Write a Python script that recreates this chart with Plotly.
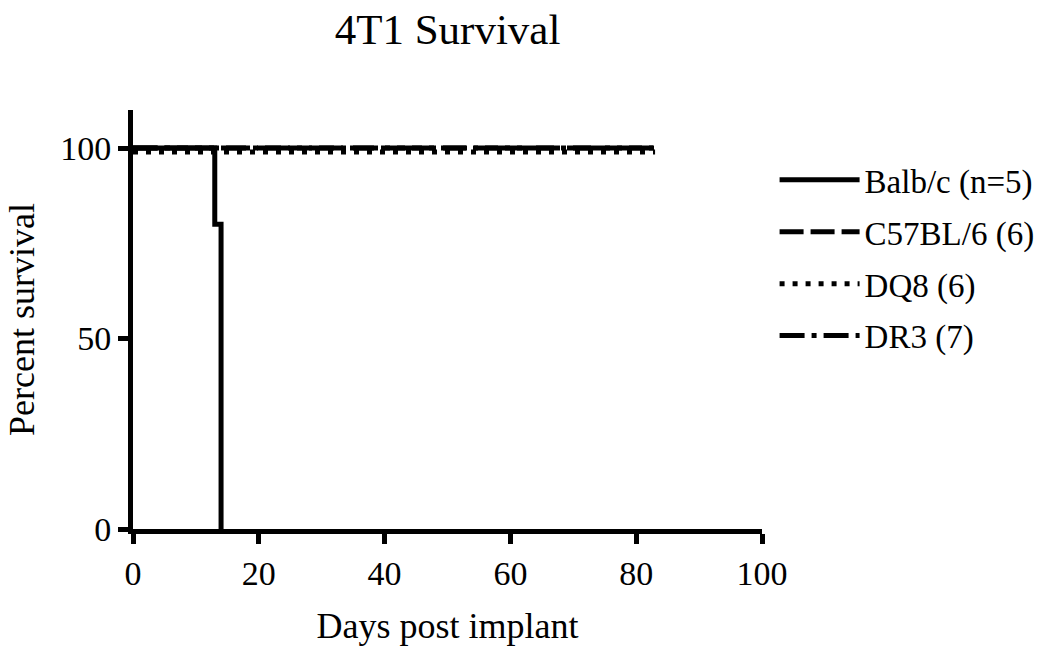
import plotly.graph_objects as go

title = "4T1 Survival"
x_title = "Days post implant"
y_title = "Percent survival"

balb_days = [0, 13, 14]
balb_surv = [100, 80, 0]
c57_days = [0, 83]
c57_surv = [100, 100]
dq8_days = [0, 83]
dq8_surv = [100, 100]
dr3_days = [0, 83]
dr3_surv = [100, 100]

x_ticks = [0, 20, 40, 60, 80, 100]
y_ticks = [0, 50, 100]

FONT = "Liberation Serif, Times New Roman, serif"
LW = 5

fig = go.Figure()
fig.add_trace(go.Scatter(x=balb_days, y=balb_surv, mode="lines", line_shape="hv", legendgroup="a",
                         name="Balb/c (n=5)", line=dict(color="black", width=LW)))
fig.add_trace(go.Scatter(x=c57_days, y=c57_surv, mode="lines", line_shape="hv", legendgroup="b",
                         name="C57BL/6 (6)", line=dict(color="black", width=LW, dash="24px,7px")))
fig.add_trace(go.Scatter(x=dq8_days, y=dq8_surv, mode="lines", line_shape="hv", yaxis="y2", legendgroup="c",
                         name="DQ8 (6)", line=dict(color="black", width=LW, dash="5px,8px")))
fig.add_trace(go.Scatter(x=dr3_days, y=dr3_surv, mode="lines", line_shape="hv", legendgroup="d",
                         name="DR3 (7)", line=dict(color="black", width=LW, dash="25px,7px,5px,7px")))

axis_common = dict(showgrid=False, zeroline=False, showline=True, linecolor="black",
                   linewidth=LW, ticks="outside", ticklen=10, tickwidth=LW, tickcolor="black",
                   automargin=False,
                   tickfont=dict(family=FONT, size=34, color="black"))

fig.update_layout(
    width=1053, height=646,
    paper_bgcolor="white", plot_bgcolor="white",
    margin=dict(l=133, r=291, t=110, b=117),
    title=dict(text=title, xref="paper", x=0.5, xanchor="center", yref="container",
               y=0.955, yanchor="middle", font=dict(family=FONT, size=43, color="black")),
    xaxis=dict(range=[0, 100], tickvals=x_ticks,
               title=dict(text=x_title, standoff=34,
                          font=dict(family=FONT, size=36, color="black")), **axis_common),
    yaxis=dict(range=[0, 110], tickvals=y_ticks, title=dict(text=y_title, standoff=16,
               font=dict(family=FONT, size=36, color="black")), **axis_common),
    yaxis2=dict(range=[1, 111], overlaying="y", visible=False),
    legend=dict(x=1.02, y=0.9, xanchor="left", yanchor="top", itemwidth=80,
                font=dict(family=FONT, size=33, color="black"), tracegroupgap=6,
                bgcolor="rgba(0,0,0,0)"),
    showlegend=True,
)

fig.write_html("out.html")
